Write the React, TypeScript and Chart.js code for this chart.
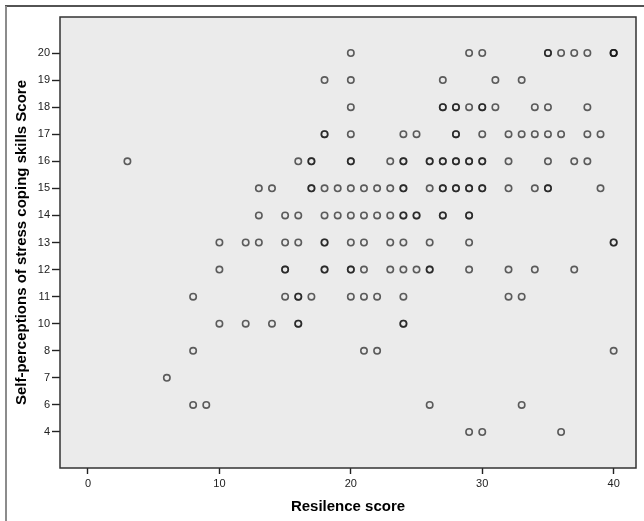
import React, { useEffect, useRef } from "react";
import { Chart, registerables } from "chart.js";

Chart.register(...registerables);

// Y axis is ordinal in the source: only these scores occur
const yCategories = ["4", "6", "7", "8", "10", "11", "12", "13", "14", "15", "16", "17", "18", "19", "20"];
const xTicks = [0, 10, 20, 30, 40];

// Resilience scores observed at each coping-skills score (repeats = overlapping cases)
const score20 = [20, 29, 30, 35, 35, 36, 37, 38, 40, 40, 40];
const score19 = [18, 20, 27, 31, 33];
const score18 = [20, 27, 27, 28, 28, 29, 30, 30, 31, 34, 35, 38];
const score17 = [18, 18, 20, 24, 25, 28, 28, 30, 32, 33, 34, 35, 36, 38, 39];
const score16 = [3, 16, 17, 17, 20, 20, 23, 24, 24, 26, 26, 27, 27, 28, 28, 29, 29, 30, 30, 32, 35, 37, 38];
const score15 = [13, 14, 17, 17, 18, 19, 20, 21, 22, 23, 24, 24, 26, 27, 27, 28, 28, 29, 29, 30, 30, 32, 34, 35, 35, 39];
const score14 = [13, 15, 16, 18, 19, 20, 21, 22, 23, 24, 24, 25, 25, 27, 27, 29, 29];
const score13 = [10, 12, 13, 15, 16, 18, 18, 20, 21, 23, 24, 26, 29, 40, 40];
const score12 = [10, 15, 15, 18, 18, 20, 20, 21, 23, 24, 25, 26, 26, 29, 32, 34, 37];
const score11 = [8, 15, 16, 16, 17, 20, 21, 22, 24, 32, 33];
const score10 = [10, 12, 14, 16, 16, 24, 24];
const score8 = [8, 21, 22, 40];
const score7 = [6];
const score6 = [8, 9, 26, 33];
const score4 = [29, 30, 36];

const rows: [string, number[]][] = [
  ["20", score20], ["19", score19], ["18", score18], ["17", score17], ["16", score16],
  ["15", score15], ["14", score14], ["13", score13], ["12", score12], ["11", score11],
  ["10", score10], ["8", score8], ["7", score7], ["6", score6], ["4", score4],
];

const framePlugin = {
  id: "spssFrame",
  beforeDraw(chart: any) {
    const { ctx, chartArea: a } = chart;
    ctx.save();
    ctx.fillStyle = "#ffffff";
    ctx.fillRect(0, 0, chart.width, chart.height);
    ctx.fillStyle = "#ebebeb";
    ctx.fillRect(a.left, a.top, a.right - a.left, a.bottom - a.top);
    ctx.strokeStyle = "#1a1a1a";
    ctx.lineWidth = 1.5;
    ctx.beginPath();
    ctx.moveTo(5, 6);
    ctx.lineTo(chart.width, 6);
    ctx.stroke();
    ctx.strokeStyle = "#8c8c8c";
    ctx.lineWidth = 2;
    ctx.beginPath();
    ctx.moveTo(6, 6);
    ctx.lineTo(6, chart.height);
    ctx.stroke();
    ctx.restore();
  },
  beforeDatasetsDraw(chart: any) {
    const { ctx, chartArea: a } = chart;
    ctx.save();
    ctx.strokeStyle = "#333333";
    ctx.lineWidth = 1.5;
    ctx.strokeRect(a.left, a.top, a.right - a.left, a.bottom - a.top);
    ctx.restore();
  },
};

export default function App() {
  const ref = useRef<HTMLCanvasElement | null>(null);

  useEffect(() => {
    document.body.style.margin = "0";
    const points = rows.flatMap(([cat, xs]) =>
      xs.map((x) => ({ x, y: yCategories.indexOf(cat) }))
    );
    const chart = new Chart(ref.current as HTMLCanvasElement, {
      type: "scatter",
      data: {
        datasets: [
          {
            data: points,
            pointStyle: "circle",
            pointRadius: 3.2,
            pointHoverRadius: 3.2,
            pointBorderWidth: 1.6,
            borderColor: "rgba(17,17,17,0.66)",
            backgroundColor: "rgba(0,0,0,0)",
          },
        ],
      },
      options: {
        animation: false,
        responsive: false,
        devicePixelRatio: 1,
        layout: { padding: { left: 0, top: 17, right: 8, bottom: 0 } },
        plugins: { legend: { display: false }, tooltip: { enabled: false } },
        scales: {
          x: {
            type: "linear",
            min: -2.13,
            max: 41.7,
            afterFit: (s: any) => {
              s.height = 53;
            },
            afterBuildTicks: (s: any) => {
              s.ticks = xTicks.map((v) => ({ value: v }));
            },
            grid: {
              drawOnChartArea: false,
              drawTicks: true,
              tickLength: 6,
              tickWidth: 1.4,
              tickColor: "#222",
            },
            border: { display: false },
            ticks: {
              padding: 3,
              color: "#222",
              font: { family: "'Liberation Sans', Arial, sans-serif", size: 11 },
              callback: (v: any) => String(v),
            },
            title: {
              display: true,
              text: "Resilence score",
              color: "#000",
              font: { family: "'Liberation Sans', Arial, sans-serif", size: 15, weight: "bold" },
              padding: { top: 0, bottom: 5 },
            },
          },
          y: {
            type: "linear",
            min: -1.33,
            max: 15.33,
            afterFit: (s: any) => {
              s.width = 60;
            },
            afterBuildTicks: (s: any) => {
              s.ticks = yCategories.map((_, i) => ({ value: i }));
            },
            grid: {
              drawOnChartArea: false,
              drawTicks: true,
              tickLength: 8,
              tickWidth: 1.4,
              tickColor: "#222",
            },
            border: { display: false },
            ticks: {
              padding: 2,
              color: "#222",
              font: { family: "'Liberation Sans', Arial, sans-serif", size: 11 },
              callback: (v: any) => yCategories[Math.round(Number(v))] ?? "",
            },
            title: {
              display: true,
              text: "Self-perceptions of stress coping skills Score",
              color: "#000",
              font: { family: "'Liberation Sans', Arial, sans-serif", size: 15, weight: "bold" },
              padding: { top: 13, bottom: 0 },
            },
          },
        },
      },
      plugins: [framePlugin],
    });
    return () => chart.destroy();
  }, []);

  return <canvas ref={ref} width={644} height={521} style={{ display: "block" }} />;
}
